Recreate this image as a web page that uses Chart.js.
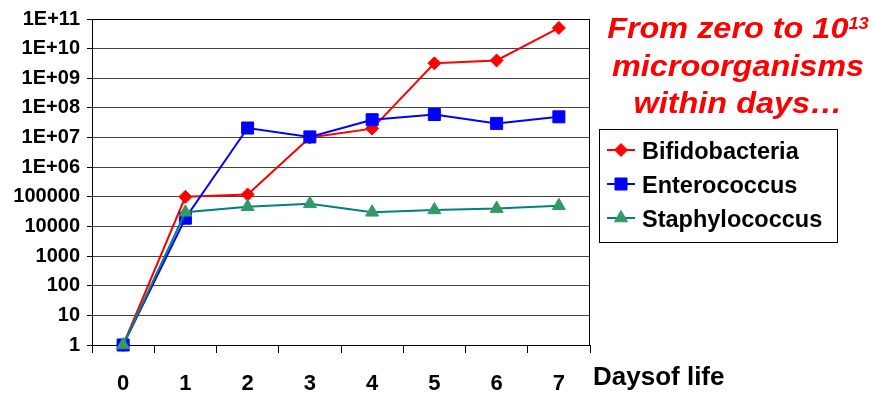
<!DOCTYPE html>
<html><head><meta charset="utf-8">
<script src="https://cdn.jsdelivr.net/npm/chart.js@4/dist/chart.umd.min.js"></script>
<style>html,body{margin:0;padding:0;background:#fff;}#wrap{width:873px;height:396px;position:relative}</style>
</head><body><div id="wrap"><canvas id="c" width="873" height="396"></canvas></div>
<script>
const days = ['0','1','2','3','4','5','6','7'];
const bifidobacteria = [1, 1e5, 1.2e5, 1e7, 2e7, 3.2e9, 4e9, 5e10];
const enterococcus = [1, 1.9e4, 2.1e7, 1.05e7, 4e7, 6e7, 3e7, 5e7];
const staphylococcus = [1, 3e4, 4.6e4, 5.8e4, 3e4, 3.6e4, 4e4, 5e4];
const yTickValues = [1, 10, 100, 1e3, 1e4, 1e5, 1e6, 1e7, 1e8, 1e9, 1e10, 1e11];
const yTickLabels = ['1','10','100','1000','10000','100000','1E+06','1E+07','1E+08','1E+09','1E+10','1E+11'];
const seriesNames = ['Bifidobacteria', 'Enterococcus', 'Staphylococcus'];
const xAxisTitle = 'Daysof life';
const titleLines = ['From zero to 10', 'microorganisms', 'within days\u2026'];
const titleSup = '13';

const FONT = "'Liberation Sans', Arial, sans-serif";

function drawMarker(ctx, style, r, x, y, fill) {
  ctx.save();
  ctx.fillStyle = fill; ctx.strokeStyle = fill; ctx.lineWidth = 1;
  ctx.beginPath();
  if (style === 'rectRot') {
    ctx.moveTo(x - r, y); ctx.lineTo(x, y - r); ctx.lineTo(x + r, y); ctx.lineTo(x, y + r);
  } else if (style === 'rect') {
    const s = Math.SQRT1_2 * r; ctx.rect(x - s, y - s, 2 * s, 2 * s);
  } else if (style === 'triangle') {
    let a = 0;
    ctx.moveTo(x + Math.sin(a) * r, y - Math.cos(a) * r);
    a += 2 * Math.PI / 3; ctx.lineTo(x + Math.sin(a) * r, y - Math.cos(a) * r);
    a += 2 * Math.PI / 3; ctx.lineTo(x + Math.sin(a) * r, y - Math.cos(a) * r);
  }
  ctx.closePath(); ctx.fill(); ctx.stroke();
  ctx.restore();
}

const decor = {
  id: 'decor',
  afterDraw(chart) {
    const ctx = chart.ctx, a = chart.chartArea;
    ctx.save();
    // plot border
    ctx.strokeStyle = '#000'; ctx.lineWidth = 1;
    ctx.beginPath();
    ctx.moveTo(Math.round(a.left) + 0.5, Math.round(a.top) + 0.5);
    ctx.lineTo(Math.round(a.right) - 0.5, Math.round(a.top) + 0.5);
    ctx.lineTo(Math.round(a.right) - 0.5, Math.round(a.bottom) + 0.5);
    ctx.stroke();
    // x axis title
    ctx.fillStyle = '#000';
    ctx.font = 'bold 26px ' + FONT;
    ctx.textAlign = 'left'; ctx.textBaseline = 'alphabetic';
    ctx.fillText(xAxisTitle, 593, 385);
    // red title (slightly stretched horizontally like the reference)
    ctx.save();
    ctx.fillStyle = '#ff0000';
    const sx = 1.08;
    const tf = 'italic bold 30px ' + FONT, sf = 'italic bold 17px ' + FONT;
    const cx = 738, base = [38, 75.5, 113];
    ctx.translate(cx, 0); ctx.scale(sx, 1);
    ctx.font = tf;
    const w0 = ctx.measureText(titleLines[0]).width;
    ctx.font = sf;
    const ws = ctx.measureText(titleSup).width;
    let x0 = -(w0 + ws) / 2;
    ctx.font = tf; ctx.fillText(titleLines[0], x0, base[0]);
    ctx.font = sf; ctx.fillText(titleSup, x0 + w0, base[0] - 9);
    ctx.font = tf; ctx.textAlign = 'center';
    ctx.fillText(titleLines[1], 0, base[1]);
    ctx.fillText(titleLines[2], 0, base[2]);
    ctx.restore();
    // legend
    ctx.strokeStyle = '#000'; ctx.lineWidth = 1;
    ctx.strokeRect(599.5, 129.5, 238, 113);
    ctx.font = 'bold 23.5px ' + FONT; ctx.textAlign = 'left'; ctx.fillStyle = '#000';
    const rows = [150, 184, 218];
    chart.data.datasets.forEach((ds, i) => {
      const y = rows[i];
      ctx.strokeStyle = ds.borderColor; ctx.lineWidth = 2;
      ctx.beginPath(); ctx.moveTo(607, y); ctx.lineTo(635, y); ctx.stroke();
      drawMarker(ctx, ds.pointStyle, ds.pointRadius, 621, y, ds.pointBackgroundColor);
      ctx.fillStyle = '#000';
      ctx.fillText(ds.label, 642, y + 9);
    });
    ctx.restore();
  }
};

new Chart(document.getElementById('c'), {
  type: 'line',
  data: {
    labels: days,
    datasets: [
      { label: seriesNames[0], data: bifidobacteria, borderColor: '#ff0000', backgroundColor: '#ff0000',
        pointBackgroundColor: '#ff0000', pointBorderColor: '#ff0000', pointStyle: 'rectRot', pointRadius: 6.5, order: 3 },
      { label: seriesNames[1], data: enterococcus, borderColor: '#0000ff', backgroundColor: '#0000ff',
        pointBackgroundColor: '#0000ff', pointBorderColor: '#0000ff', pointStyle: 'rect', pointRadius: 8.5, order: 2 },
      { label: seriesNames[2], data: staphylococcus, borderColor: '#008080', backgroundColor: '#339966',
        pointBackgroundColor: '#339966', pointBorderColor: '#339966', pointStyle: 'triangle', pointRadius: 7.5, order: 1 }
    ].map(d => Object.assign({ borderWidth: 2, pointBorderWidth: 1, tension: 0, fill: false, clip: false }, d))
  },
  options: {
    responsive: false, animation: false, devicePixelRatio: 1,
    layout: { padding: { top: 18, right: 283, left: 0, bottom: 0 } },
    plugins: { legend: { display: false }, tooltip: { enabled: false }, title: { display: false } },
    scales: {
      x: {
        type: 'category', offset: true,
        grid: { offset: true, drawOnChartArea: false, drawTicks: true, tickLength: 8, color: '#000' },
        border: { color: '#000', width: 1 },
        ticks: { color: '#000', font: { family: FONT, size: 22, weight: 'bold' }, padding: 18, maxRotation: 0, autoSkip: false },
        afterFit(s) { s.height = 51; }
      },
      y: {
        type: 'logarithmic', min: 1, max: 1e11,
        grid: { color: '#444', tickColor: '#000', tickLength: 5, drawTicks: true },
        border: { color: '#000', width: 1 },
        ticks: { color: '#000', font: { family: FONT, size: 20, weight: 'bold' }, padding: 7,
          callback(v) { const i = yTickValues.indexOf(v); return i >= 0 ? yTickLabels[i] : ''; } },
        afterBuildTicks(s) { s.ticks = yTickValues.map(v => ({ value: v })); },
        afterFit(s) { s.width = 92; }
      }
    }
  },
  plugins: [decor]
});
</script>
</body></html>
